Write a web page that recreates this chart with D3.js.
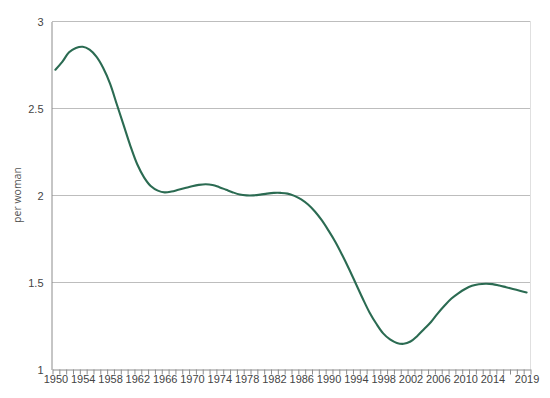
<!DOCTYPE html>
<html>
 <head>
  <meta charset="utf-8" />
  <title>Fertility rate, per woman</title>
  <style>
   body, html {
    margin: 0;
    padding: 0;
    background: #fff;
    overflow: hidden;
   }
   svg {
    display: block;
    font-family: "Open Sans", "Liberation Sans", sans-serif;
   }
   .axis text {
    fill: #444;
    font-size: 11px;
   }
   .axis .domain {
    stroke: #8c8c8c;
   }
   .axis .tick line {
    stroke: #8c8c8c;
   }
   .grid line {
    stroke: #bdbdbd;
   }
  </style>
  <script src="https://cdnjs.cloudflare.com/ajax/libs/d3/7.9.0/d3.min.js"></script>
 </head>
 <body>
  <svg width="550" height="398"></svg>
  <script>
   // years shown on the x axis (one category per year)
   const years = d3.range(1950, 2020);
   const labelYears = [1950, 1954, 1958, 1962, 1966, 1970, 1974, 1978, 1982, 1986, 1990, 1994, 1998, 2002, 2006, 2010, 2014, 2019];
   const yTicks = [1, 1.5, 2, 2.5, 3];

   // births per woman
   const rate = [
    2.72, 2.765, 2.82, 2.845, 2.852, 2.835, 2.795, 2.73, 2.64, 2.52,
    2.40, 2.28, 2.175, 2.10, 2.05, 2.025, 2.015, 2.02, 2.03, 2.04,
    2.05, 2.058, 2.062, 2.058, 2.045, 2.03, 2.015, 2.003, 1.998, 1.998,
    2.002, 2.008, 2.012, 2.012, 2.008, 1.995, 1.975, 1.945, 1.905, 1.855,
    1.795, 1.73, 1.655, 1.575, 1.49, 1.405, 1.325, 1.26, 1.205, 1.17,
    1.15, 1.145, 1.158, 1.19, 1.23, 1.27, 1.32, 1.365, 1.405, 1.435,
    1.46, 1.478, 1.487, 1.49, 1.488, 1.48, 1.47, 1.46, 1.45, 1.44
   ];

   const margin = {top: 21, right: 20, bottom: 29, left: 52};
   const width = 550, height = 398;

   const svg = d3.select("svg");

   // category boundaries: 1950 .. 2020, points sit in the middle of each year
   const x = d3.scaleLinear()
    .domain([1950, 2020])
    .range([margin.left, width - margin.right]);

   const y = d3.scaleLinear()
    .domain([1, 3])
    .range([height - margin.bottom, margin.top]);

   // gridlines
   svg.append("g")
    .attr("class", "grid")
    .selectAll("line")
    .data(yTicks.filter(d => d > 1))
    .enter().append("line")
    .attr("x1", x(1950))
    .attr("x2", x(2020))
    .attr("y1", d => y(d) + 0.5)
    .attr("y2", d => y(d) + 0.5);

   // light frame on the right side of the plot
   svg.append("line")
    .attr("x1", x(2020) + 0.5)
    .attr("x2", x(2020) + 0.5)
    .attr("y1", y(3))
    .attr("y2", y(1))
    .attr("stroke", "#e0e0e0");

   // y axis
   svg.append("g")
    .attr("class", "axis")
    .attr("transform", `translate(${x(1950) - 0.5},0.5)`)
    .call(d3.axisLeft(y).tickValues(yTicks).tickSize(0).tickPadding(8).tickFormat(d3.format("~g")));

   // x axis: a tick at every year boundary
   svg.append("g")
    .attr("class", "axis")
    .attr("transform", `translate(0.5,${y(1) + 0.5})`)
    .call(d3.axisBottom(x).tickValues(d3.range(1950, 2021)).tickSize(5).tickSizeOuter(0).tickFormat(""));

   // x labels centred in their year
   const xLabels = svg.append("g")
    .attr("class", "axis")
    .attr("transform", `translate(0,${y(1)})`)
    .call(d3.axisBottom(x).tickValues(labelYears.map(d => d + 0.5)).tickSize(0).tickPadding(6).tickFormat(d => d3.format("d")(d - 0.5)));
   xLabels.select(".domain").remove();

   // y axis title
   svg.append("text")
    .attr("transform", `translate(18,${(y(3) + y(1)) / 2}) rotate(-90)`)
    .attr("text-anchor", "middle")
    .attr("dominant-baseline", "middle")
    .attr("fill", "#555")
    .attr("font-size", "10.5px")
    .text("per woman");

   // the series
   const line = d3.line()
    .x((d, i) => x(years[i] + 0.5))
    .y(d => y(d))
    .curve(d3.curveCatmullRom);

   svg.append("path")
    .datum(rate)
    .attr("fill", "none")
    .attr("stroke", "#2b6b52")
    .attr("stroke-width", 2.1)
    .attr("stroke-linejoin", "round")
    .attr("stroke-linecap", "round")
    .attr("d", line);
  </script>
 </body>
</html>
